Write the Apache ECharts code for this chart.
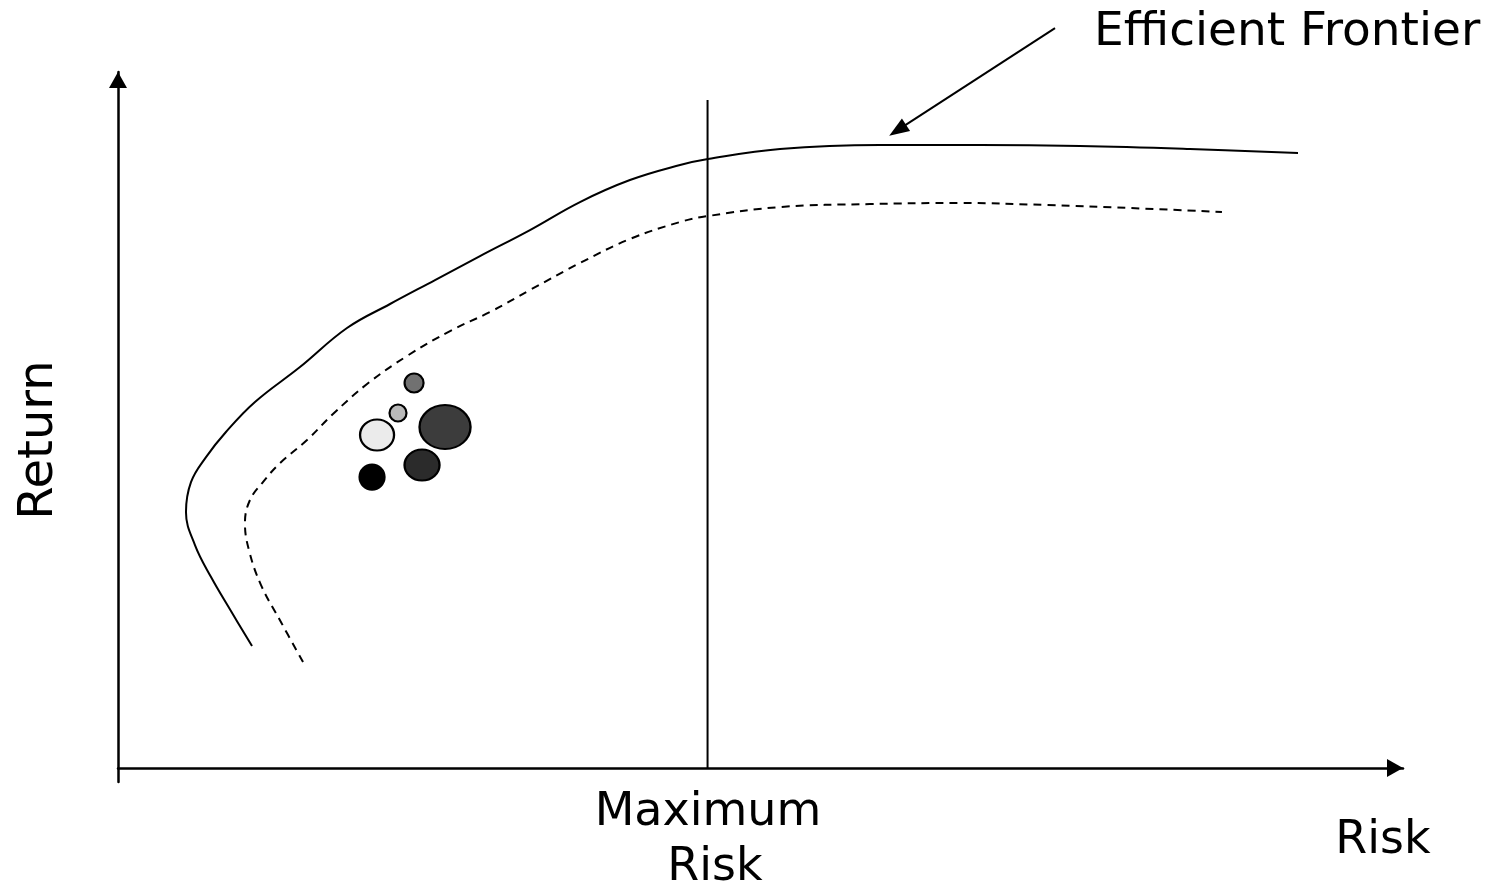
<!DOCTYPE html>
<html><head><meta charset="utf-8">
<script src="https://cdn.jsdelivr.net/npm/echarts@6/dist/echarts.min.js"></script>
<style>html,body{margin:0;padding:0;background:#fff}#c{width:1497px;height:891px}</style>
</head><body><div id="c"></div>
<script>
// Efficient frontier (solid) — risk / return in 0..100 units
const frontierRisk   = [10.43, 8.79, 7.24, 5.99, 5.29, 5.68, 6.85, 8.40, 10.66, 14.16, 17.82, 21.17, 24.67, 28.17, 32.06, 35.95, 39.84, 43.74, 45.91, 51.52, 59.30, 67.08, 74.86, 83.42, 91.83];
const frontierReturn = [17.53, 22.56, 27.44, 32.04, 36.78, 41.09, 44.68, 48.28, 52.59, 57.61, 63.22, 66.67, 70.11, 73.56, 77.30, 81.32, 84.48, 86.64, 87.50, 88.94, 89.51, 89.51, 89.37, 88.94, 88.36];
// Inner (dashed) frontier
const innerRisk   = [14.40, 12.68, 11.13, 10.19, 9.88, 10.27, 11.28, 12.61, 14.71, 16.73, 19.38, 22.49, 25.84, 28.95, 32.06, 35.95, 39.84, 43.74, 45.91, 51.52, 58.52, 65.53, 72.30, 78.75, 85.91];
const innerReturn = [15.23, 20.98, 26.29, 31.32, 35.20, 38.51, 41.09, 43.82, 47.13, 50.86, 55.17, 59.20, 62.79, 65.52, 68.68, 72.56, 76.01, 78.45, 79.31, 80.60, 81.03, 81.18, 80.89, 80.46, 79.89];
// Maximum risk limit
const maxRisk = 45.88;
const maxRiskTop = 95.98;
// Portfolios (bubbles)
const portfolioRisk   = [23.04, 21.79, 20.16, 25.45, 23.66, 19.77];
const portfolioReturn = [55.32, 51.01, 47.84, 48.99, 43.53, 41.81];
const portfolioWidth  = [19, 17, 34, 51, 35, 25];
const portfolioHeight = [19, 17, 31, 44, 31, 25];
const portfolioColor  = ['#717171', '#b9b9b9', '#ebebeb', '#3c3c3c', '#2b2b2b', '#000000'];
// Annotation arrow
const annotationFrom = [72.92, 106.32];
const annotationTo   = [60.67, 91.65];
// Texts
const labelFrontier = 'Efficient Frontier';
const labelMax1 = 'Maximum';
const labelMax2 = 'Risk';
const labelX = 'Risk';
const labelY = 'Return';

const FONT = "'DejaVu Sans', Verdana, sans-serif";
const chart = echarts.init(document.getElementById('c'), null, {renderer: 'canvas'});

const zip = (a, b) => a.map((v, i) => [v, b[i]]);

const txt = (x, y, text, size, align, extra) => Object.assign({
  type: 'text', x: x, y: y, silent: true,
  style: {text: text, font: size + "px " + FONT, fill: '#000', align: align || 'center', verticalAlign: 'middle'}
}, extra || {});

chart.setOption({
  animation: false,
  backgroundColor: '#fff',
  grid: [
    {left: 118, right: 94, top: 72, bottom: 109, containLabel: false},
    {left: 118, right: 94, top: 2.5, bottom: 109, containLabel: false}
  ],
  xAxis: [
    {type: 'value', gridIndex: 0, min: 0, max: 100,
     axisLine: {show: true, onZero: true, symbol: ['none', 'triangle'], symbolSize: [18, 16], symbolOffset: [0, -8], lineStyle: {color: '#000', width: 2.5}},
     axisTick: {show: false}, axisLabel: {show: false}, splitLine: {show: false}},
    {type: 'value', gridIndex: 1, min: 0, max: 100, show: false}
  ],
  yAxis: [
    {type: 'value', gridIndex: 0, min: -2, max: 100,
     axisLine: {show: true, onZero: false, symbol: ['none', 'triangle'], symbolSize: [18, 16], symbolOffset: [0, -8], lineStyle: {color: '#000', width: 2.5}},
     axisTick: {show: false}, axisLabel: {show: false}, splitLine: {show: false}},
    {type: 'value', gridIndex: 1, min: -2, max: 110, show: false}
  ],
  series: [
    {type: 'line', xAxisIndex: 0, yAxisIndex: 0, data: zip(frontierRisk, frontierReturn),
     smooth: 0.4, symbol: 'none', clip: false, lineStyle: {color: '#000', width: 2}, silent: true},
    {type: 'line', xAxisIndex: 0, yAxisIndex: 0, data: zip(innerRisk, innerReturn),
     smooth: 0.4, symbol: 'none', clip: false, lineStyle: {color: '#000', width: 2, type: [8, 6]}, silent: true},
    {type: 'line', xAxisIndex: 0, yAxisIndex: 0, data: [[maxRisk, 0], [maxRisk, maxRiskTop]],
     symbol: 'none', clip: false, lineStyle: {color: '#000', width: 2}, silent: true},
    {type: 'scatter', xAxisIndex: 0, yAxisIndex: 0, silent: true,
     data: portfolioRisk.map((r, i) => ({
       value: [r, portfolioReturn[i]],
       symbolSize: [portfolioWidth[i], portfolioHeight[i]],
       itemStyle: {color: portfolioColor[i], borderColor: '#000', borderWidth: 2.2, opacity: 1}
     })),
     symbol: 'circle'},
    {type: 'line', xAxisIndex: 1, yAxisIndex: 1, data: [], silent: true,
     markLine: {
       silent: true, animation: false,
       symbol: ['none', 'triangle'], symbolSize: [15, 20],
       label: {show: false},
       lineStyle: {color: '#000', width: 2, type: 'solid'},
       data: [[{coord: annotationFrom}, {coord: annotationTo}]]
     }}
  ],
  graphic: [
    txt(1094, 33, labelFrontier, 47, 'left'),
    txt(708, 813, labelMax1, 46),
    txt(715, 868, labelMax2, 46),
    txt(1383, 841, labelX, 46),
    txt(40, 440, labelY, 48, 'center', {rotation: Math.PI / 2})
  ]
});
</script>
</body></html>
